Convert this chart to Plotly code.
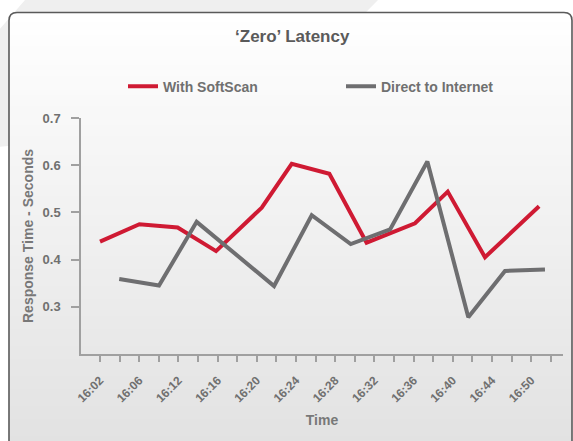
import plotly.graph_objects as go

# ---------------- data ----------------
time_labels = ["16:02", "16:06", "16:12", "16:16", "16:20", "16:24",
               "16:28", "16:32", "16:36", "16:40", "16:44", "16:50"]
n_slots = 24  # one tick per slot, labels on every other slot

softscan_x = [0, 2.01, 3.96, 5.92, 8.25, 9.78, 11.7, 13.6, 16.07, 17.74, 19.64, 22.4]
softscan_y = [0.438, 0.475, 0.468, 0.418, 0.510, 0.603, 0.582, 0.436, 0.477, 0.544, 0.405, 0.513]

direct_x = [0.98, 3.01, 4.93, 8.88, 10.8, 12.79, 14.8, 16.7, 18.79, 20.66, 22.7]
direct_y = [0.359, 0.345, 0.480, 0.344, 0.494, 0.433, 0.464, 0.608, 0.278, 0.376, 0.379]

y_ticks = [0.3, 0.4, 0.5, 0.6, 0.7]

# ---------------- layout geometry ----------------
W, H = 573, 441
L, R, T, B = 81, 10, 118, 87
PW, PH = W - L - R, H - T - B


def px(x):
    return (x - L) / PW


def py(y):
    return (H - B - y) / PH


FONT = "Liberation Sans, Arial, sans-serif"

fig = go.Figure()
fig.add_trace(go.Scatter(x=softscan_x, y=softscan_y, mode="lines", name="With SoftScan",
                         line=dict(color="#cf1a33", width=4)))
fig.add_trace(go.Scatter(x=direct_x, y=direct_y, mode="lines", name="Direct to Internet",
                         line=dict(color="#6e6e70", width=4)))

shapes = []
# decorative light-gray band behind the panel
poly = [(25, 0), (378, 0), (250, 130), (8, 146), (-40, 150), (-40, 75)]
path = "M " + " L ".join(f"{px(a):.5f},{py(b):.5f}" for a, b in poly) + " Z"
shapes.append(dict(type="path", xref="paper", yref="paper", path=path,
                   fillcolor="#efefef", line=dict(width=0), layer="below"))

# panel with rounded corners and a vertical gradient
bx0, by0, bx1, by1, r = 9, 12.5, 572, 446, 8


def box_path():
    pts = [
        f"M {px(bx0):.5f},{py(by1):.5f}",
        f"L {px(bx0):.5f},{py(by0 + r):.5f}",
        f"Q {px(bx0):.5f},{py(by0):.5f} {px(bx0 + r):.5f},{py(by0):.5f}",
        f"L {px(bx1 - r):.5f},{py(by0):.5f}",
        f"Q {px(bx1):.5f},{py(by0):.5f} {px(bx1):.5f},{py(by0 + r):.5f}",
        f"L {px(bx1):.5f},{py(by1):.5f}",
    ]
    return " ".join(pts)


shapes.append(dict(type="path", xref="paper", yref="paper", path=box_path() + " Z",
                   fillcolor="#ffffff", line=dict(width=0), layer="below"))
step = 6
y = by0 + r + 2
while y < by1:
    t = (y + step / 2 - by0) / (H - by0)
    c = int(round(255 - t * (255 - 226)))
    shapes.append(dict(type="rect", xref="paper", yref="paper",
                       x0=px(bx0), x1=px(bx1), y0=py(y), y1=py(min(y + step + 0.6, by1)),
                       fillcolor=f"rgb({c},{c},{c})", line=dict(width=0), layer="below"))
    y += step
shapes.append(dict(type="path", xref="paper", yref="paper", path=box_path(),
                   line=dict(color="#5a5a5a", width=1.6), layer="below"))

tickvals = list(range(n_slots))
ticktext = [time_labels[i // 2] if i % 2 == 0 and i // 2 < len(time_labels) else "" for i in tickvals]

fig.update_layout(
    width=W, height=H,
    margin=dict(l=L, r=R, t=T, b=B, autoexpand=False),
    paper_bgcolor="#ffffff", plot_bgcolor="rgba(0,0,0,0)",
    font=dict(family=FONT, color="#707070", size=13, weight="bold"),
    shapes=shapes,
    title=dict(text="‘Zero’ Latency", x=0.51, xanchor="center", y=1 - 36.5 / H, yanchor="middle",
               font=dict(family=FONT, size=17, color="#5a5a5a", weight="bold")),
    showlegend=True,
    legend=dict(orientation="h", x=px(123), xanchor="left", y=py(86.6), yanchor="middle",
                font=dict(family=FONT, size=14, color="#707070", weight="bold"),
                entrywidth=173, bgcolor="rgba(0,0,0,0)", itemwidth=30),
    xaxis=dict(range=[-0.97, 23.62], tickmode="array", tickvals=tickvals, ticktext=ticktext,
               tickangle=-45, ticks="outside", ticklen=6, tickwidth=1.5, tickcolor="#a0a0a0",
               showline=True, linecolor="#a0a0a0", linewidth=1.5, showgrid=False, zeroline=False,
               tickfont=dict(family=FONT, size=12, color="#707070", weight="bold"),
               ticklabelstandoff=7,
               title=dict(text="Time", standoff=11,
                          font=dict(family=FONT, size=14, color="#787878", weight="bold"))),
    yaxis=dict(range=[0.2, 0.7], tickmode="array", tickvals=y_ticks,
               ticktext=[f"{v:.1f}" for v in y_ticks],
               ticks="outside", ticklen=8, tickwidth=1.5, tickcolor="#a0a0a0",
               showline=True, linecolor="#a0a0a0", linewidth=1.5, showgrid=False, zeroline=False,
               tickfont=dict(family=FONT, size=13, color="#707070", weight="bold"),
               ticklabelstandoff=8,
               title=dict(text="Response Time - Seconds", standoff=6,
                          font=dict(family=FONT, size=14, color="#787878", weight="bold"))),
)

fig.write_html("out.html", config={"displayModeBar": False},
               post_script="document.body.style.margin='0';")
